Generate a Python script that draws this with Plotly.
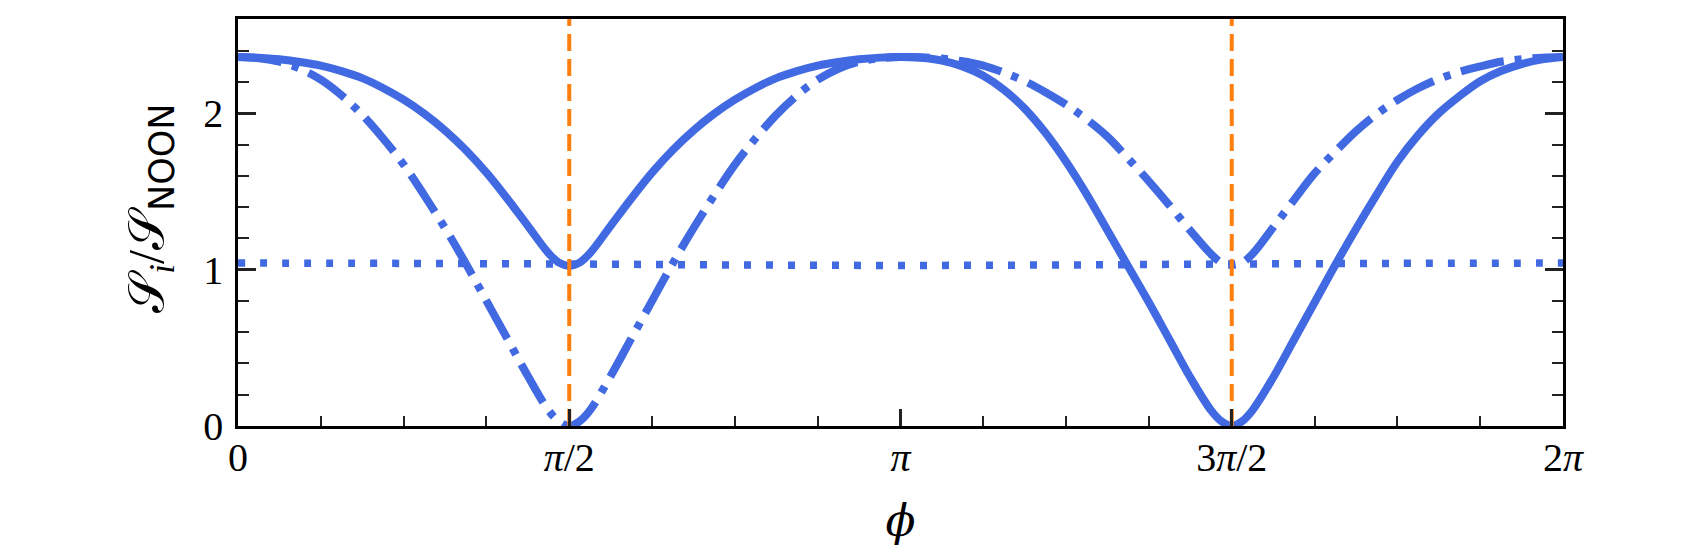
import math
import plotly.graph_objects as go

# phase positions in units of pi/8
phase_k = [0, 0.25, 0.5, 0.75, 1, 1.25, 1.5, 1.75, 2, 2.25, 2.5, 2.75, 3, 3.25, 3.5, 3.75, 3.875,
           4, 4.125, 4.25, 4.5, 4.75, 5, 5.25, 5.5, 5.75, 6, 6.25, 6.5, 6.75, 7, 7.25, 7.5, 7.75,
           8, 8.25, 8.5, 8.75, 9, 9.25, 9.5, 9.75, 10, 10.25, 10.5, 10.75, 11, 11.25, 11.5, 11.75, 11.875,
           12, 12.125, 12.25, 12.5, 12.75, 13, 13.25, 13.5, 13.75, 14, 14.25, 14.5, 14.75, 15, 15.25, 15.5, 15.75,
           16]

solid_v = [2.360, 2.356, 2.345, 2.328, 2.305, 2.270, 2.225, 2.162, 2.087, 1.997, 1.890, 1.765, 1.620, 1.455,
           1.280, 1.105, 1.045,
           1.025, 1.045, 1.105, 1.280, 1.455, 1.620, 1.765, 1.890, 1.997, 2.087, 2.162, 2.225, 2.270, 2.305,
           2.328, 2.345, 2.356,
           2.360, 2.355, 2.337, 2.300, 2.240, 2.150, 2.030, 1.875, 1.690, 1.480, 1.250, 1.020, 0.790, 0.550,
           0.310, 0.100, 0.030,
           0.000, 0.030, 0.100, 0.310, 0.550, 0.790, 1.030, 1.260, 1.480, 1.690, 1.860, 2.000, 2.110, 2.205,
           2.270, 2.315, 2.345,
           2.360]

dashdot_v = [2.360, 2.352, 2.330, 2.285, 2.215, 2.115, 1.990, 1.840, 1.672, 1.475, 1.265, 1.040, 0.800, 0.560,
             0.320, 0.100, 0.030,
             0.000, 0.030, 0.100, 0.320, 0.560, 0.800, 1.040, 1.265, 1.475, 1.672, 1.840, 1.990, 2.115, 2.215,
             2.285, 2.330, 2.352,
             2.360, 2.358, 2.350, 2.333, 2.305, 2.260, 2.205, 2.135, 2.055, 1.960, 1.850, 1.710, 1.565, 1.410,
             1.250, 1.100, 1.045,
             1.030, 1.045, 1.100, 1.270, 1.445, 1.615, 1.755, 1.885, 1.995, 2.085, 2.160, 2.220, 2.265, 2.300,
             2.330, 2.345, 2.356,
             2.360]

dotted_k = [0, 2, 4, 6, 8, 10, 12, 14, 16]
dotted_v = [1.042, 1.040, 1.036, 1.030, 1.027, 1.030, 1.036, 1.040, 1.042]

vline_phi = [math.pi / 2, 3 * math.pi / 2]

x_tickvals = [0, math.pi / 2, math.pi, 3 * math.pi / 2, 2 * math.pi]
x_ticktext = ["0", "<i>π</i>/2", "<i>π</i>", "3<i>π</i>/2", "2<i>π</i>"]
y_tickvals = [0, 1, 2]
y_ticktext = ["0", "1", "2"]

BLUE = "#4169e1"
ORANGE = "#ff7f0e"
FONT = "Liberation Serif"

def to_phi(ks):
    return [k * math.pi / 8 for k in ks]

fig = go.Figure()
fig.add_trace(go.Scatter(x=to_phi(phase_k), y=solid_v, mode="lines",
                         line=dict(color=BLUE, width=8, shape="spline", smoothing=1.0),
                         showlegend=False))
fig.add_trace(go.Scatter(x=to_phi(phase_k), y=dashdot_v, mode="lines",
                         line=dict(color=BLUE, width=8, dash="44px,11px,7px,11px", shape="spline", smoothing=1.0),
                         showlegend=False))
fig.add_trace(go.Scatter(x=to_phi(dotted_k), y=dotted_v, mode="lines",
                         line=dict(color=BLUE, width=7.5, dash="7px,15px", shape="spline"),
                         showlegend=False))
for xv in vline_phi:
    fig.add_trace(go.Scatter(x=[xv, xv], y=[0, 2.603], mode="lines",
                             line=dict(color=ORANGE, width=4, dash="17px,8px"),
                             showlegend=False))

fig.update_layout(
    width=1684, height=552,
    margin=dict(l=230, r=129, t=8, b=134),
    plot_bgcolor="white", paper_bgcolor="white",
    font=dict(family=FONT, size=40, color="black"),
)
fig.add_annotation(
    text="𝒮<sub><i>i</i></sub>/𝒮<sub><span style='font-family:DejaVu Sans'>NOON</span></sub>",
    xref="paper", yref="paper", x=-0.0664, y=0.534, xanchor="center", yanchor="middle",
    textangle=-90, showarrow=False, font=dict(size=50, family=FONT),
)
fig.update_xaxes(
    range=[0, 2 * math.pi], tickvals=x_tickvals, ticktext=x_ticktext,
    ticks="inside", ticklen=17, tickwidth=2.5, tickcolor="#222",
    showline=True, linecolor="black", linewidth=2.5, mirror=True,
    showgrid=False, zeroline=False, ticklabelstandoff=-6,
    minor=dict(dtick=math.pi / 8, tick0=0, ticks="inside", ticklen=10, tickwidth=2, tickcolor="#222", showgrid=False),
    title=dict(text="<i>ϕ</i>", font=dict(size=44, family="DejaVu Serif"), standoff=27),
)
fig.update_yaxes(
    range=[0, 2.603], tickvals=y_tickvals, ticktext=y_ticktext,
    ticks="inside", ticklen=18, tickwidth=2.5, tickcolor="#222",
    showline=True, linecolor="black", linewidth=2.5, mirror="ticks",
    showgrid=False, zeroline=False, ticklabelstandoff=4,
    minor=dict(dtick=0.2, tick0=0, ticks="inside", ticklen=11, tickwidth=2, tickcolor="#222", showgrid=False),
)

fig.write_html("out.html")
